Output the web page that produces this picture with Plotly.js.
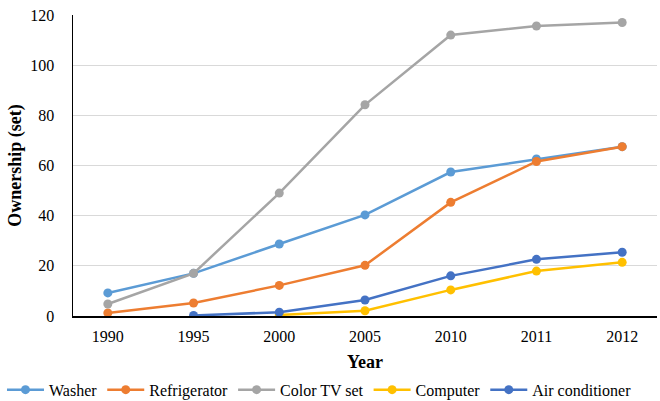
<!DOCTYPE html>
<html>
<head>
<meta charset="utf-8">
<script src="https://cdn.plot.ly/plotly-3.0.1.min.js"></script>
<style>html,body{margin:0;padding:0;background:#fff;}#chart{width:660px;height:401px;}</style>
</head>
<body>
<div id="chart"></div>
<script>
var years = ["1990", "1995", "2000", "2005", "2010", "2011", "2012"];
var washer = [9.2, 17.0, 28.7, 40.3, 57.4, 62.6, 67.5];
var refrigerator = [1.2, 5.2, 12.2, 20.2, 45.3, 61.6, 67.5];
var colorTV = [4.8, 17.0, 49.0, 84.2, 112.0, 115.6, 117.0];
var computer = [null, null, 0.4, 2.1, 10.4, 17.9, 21.4];
var airConditioner = [null, 0.2, 1.5, 6.4, 16.0, 22.6, 25.4];
var seriesNames = ["Washer", "Refrigerator", "Color TV set", "Computer", "Air conditioner"];
var seriesColors = ["#5B9BD5", "#ED7D31", "#A5A5A5", "#FFC000", "#4472C4"];
var seriesData = [washer, refrigerator, colorTV, computer, airConditioner];

var traces = seriesData.map(function (vals, i) {
  return {
    x: years, y: vals, name: seriesNames[i], type: "scatter", mode: "lines+markers",
    line: {color: seriesColors[i], width: 2.5},
    marker: {color: seriesColors[i], size: 9},
    connectgaps: false
  };
});

var font = "Liberation Serif, Times New Roman, serif";
var layout = {
  width: 660, height: 401,
  margin: {l: 73, r: 3, t: 15, b: 85, autoexpand: false},
  paper_bgcolor: "#fff", plot_bgcolor: "#fff",
  font: {family: font, size: 16, color: "#000"},
  showlegend: true,
  legend: {orientation: "h", x: -0.1216, xanchor: "left",
           y: -0.245, yanchor: "middle",
           font: {family: font, size: 16, color: "#000"}, itemwidth: 37, tracegroupgap: 0},
  xaxis: {type: "category", showline: true, linecolor: "#000", linewidth: 1.5,
          showgrid: false, ticks: "outside", ticklen: 5, tickcolor: "rgba(0,0,0,0)",
          tickfont: {family: font, size: 16, color: "#000"},
          title: {text: "<b>Year</b>", font: {family: font, size: 18, color: "#000"}, standoff: 11}},
  yaxis: {range: [0, 120], dtick: 20, showline: true, linecolor: "#000", linewidth: 1.5,
          gridcolor: "#D9D9D9", gridwidth: 1, zeroline: false,
          ticks: "outside", ticklen: 14, tickcolor: "rgba(0,0,0,0)",
          tickfont: {family: font, size: 16, color: "#000"},
          title: {text: "<b>Ownership (set)</b>", font: {family: font, size: 18, color: "#000"}, standoff: 4}}
};
Plotly.newPlot("chart", traces, layout, {displayModeBar: false, staticPlot: true});
</script>
</body>
</html>
